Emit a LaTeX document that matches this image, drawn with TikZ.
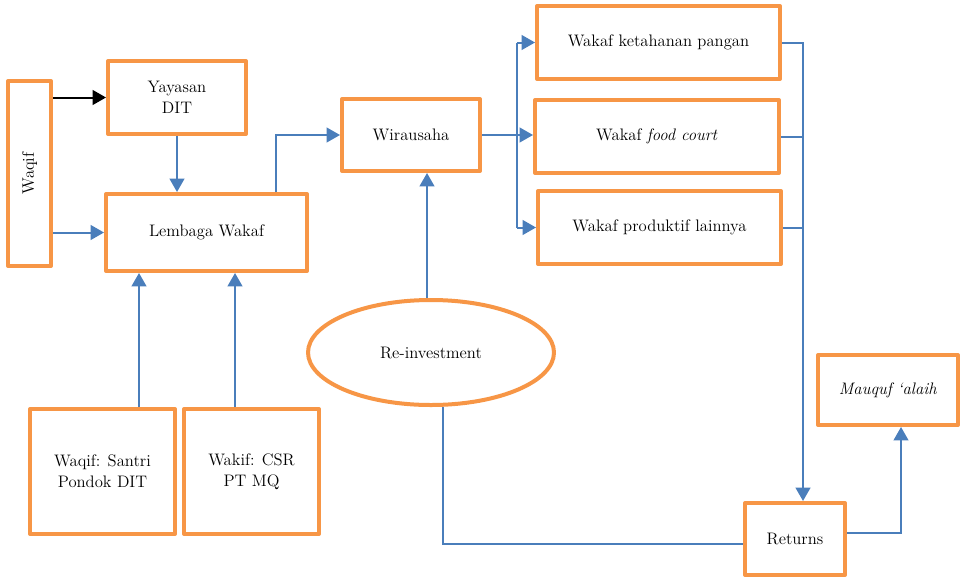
\documentclass[tikz,border=0pt]{standalone}
\usetikzlibrary{arrows.meta,shapes.geometric,calc}
\definecolor{boxorange}{HTML}{F79646}
\definecolor{flowblue}{HTML}{4A7EBB}
\tikzset{
  labelfont/.style={font=\fontsize{12.5}{15.5}\selectfont},
  box/.style={draw=boxorange, line width=3pt, line join=round, fill=white,
    rectangle, inner sep=2pt, align=center, labelfont},
  oval/.style={box, ellipse, inner sep=0pt},
  flow/.style={draw=flowblue, line width=1.5pt, -{Triangle[length=10pt,width=11pt]}},
  plainflow/.style={draw=flowblue, line width=1.5pt},
  blackflow/.style={draw=black, line width=1.5pt, -{Triangle[length=10pt,width=11pt]}},
}
\begin{document}
\begin{tikzpicture}[x=0.75pt,y=-0.75pt]
\useasboundingbox (0,0) rectangle (962,578);

% donors and the waqf institution
\node[box, minimum width=32.25pt, minimum height=138.75pt] (waqif) at (29.5,173.5) {};
\node[rotate=90, labelfont] at (waqif.center) {Waqif};
\node[box, minimum width=103.5pt, minimum height=54.75pt] (yayasan) at (177,97.5) {Yayasan\\DIT};
\node[box, minimum width=150.75pt, minimum height=57.75pt] (lembaga) at (206.5,232.5) {Lembaga Wakaf};
\node[box, minimum width=108.75pt, minimum height=93.75pt] (santri) at (102.5,471.5) {Waqif: Santri\\Pondok DIT};
\node[box, minimum width=101.25pt, minimum height=93.75pt] (csr) at (251.5,471.5) {Wakif: CSR\\PT MQ};

% enterprise and productive waqf units
\node[box, minimum width=103.5pt, minimum height=54pt] (wira) at (411,135) {Wirausaha};
\node[box, minimum width=182.25pt, minimum height=54.75pt] (k1) at (658.5,42.5) {Wakaf ketahanan pangan};
\node[box, minimum width=183pt, minimum height=54.75pt] (k2) at (657,136.5) {Wakaf \textit{food court}};
\node[box, minimum width=182.25pt, minimum height=54.75pt] (k3) at (659.5,227.5) {Wakaf produktif lainnya};

% returns and their use
\node[oval, minimum width=184.5pt, minimum height=78.75pt] (reinv) at (431,352.5) {Re-investment};
\node[box, minimum width=75pt, minimum height=54pt] (returns) at (795,539) {Returns};
\node[box, minimum width=105pt, minimum height=52.5pt] (maquf) at (888,390) {\textit{Mauquf `alaih}};

% routing points
\coordinate (split) at (517,135);
\coordinate (merge) at (803,42);
\coordinate (upx) at (427,0);
\coordinate (downx) at (443,544);
\coordinate (s1) at (139,0);
\coordinate (s2) at (235,0);
\coordinate (lw) at (276,0);
\coordinate (outy) at (0,533);
\coordinate (upm) at (901,0);

% connectors on the left
\draw[blackflow] (waqif.east |- yayasan.west) -- (yayasan.west);
\draw[flow] (waqif.east |- lembaga.west) -- (lembaga.west);
\draw[flow] (yayasan.south) -- (yayasan.south |- lembaga.north);
\draw[flow] (santri.north -| s1) -- (lembaga.south -| s1);
\draw[flow] (csr.north -| s2) -- (lembaga.south -| s2);
\draw[flow] (lembaga.north -| lw) |- (wira.west);

% fan-out to the waqf units
\draw[plainflow] (wira.east) -- (split);
\draw[plainflow] (split |- k1.west) -- (split |- k3.west);
\draw[flow] (split |- k1.west) -- (k1.west);
\draw[flow] (split) -- (k2.west |- split);
\draw[flow] (split |- k3.west) -- (k3.west);

% collection into returns
\draw[plainflow] (k1.east) -- (merge |- k1.east);
\draw[plainflow] (k2.east) -- (merge |- k2.east);
\draw[plainflow] (k3.east) -- (merge |- k3.east);
\draw[flow] (merge) -- (merge |- returns.north);
\draw[flow] (returns.east |- outy) -| (maquf.south -| upm);

% re-investment loop
\draw[plainflow] (reinv.south -| downx) |- (returns.west |- downx);
\draw[flow] (reinv.north -| upx) -- (wira.south -| upx);
\end{tikzpicture}
\end{document}
